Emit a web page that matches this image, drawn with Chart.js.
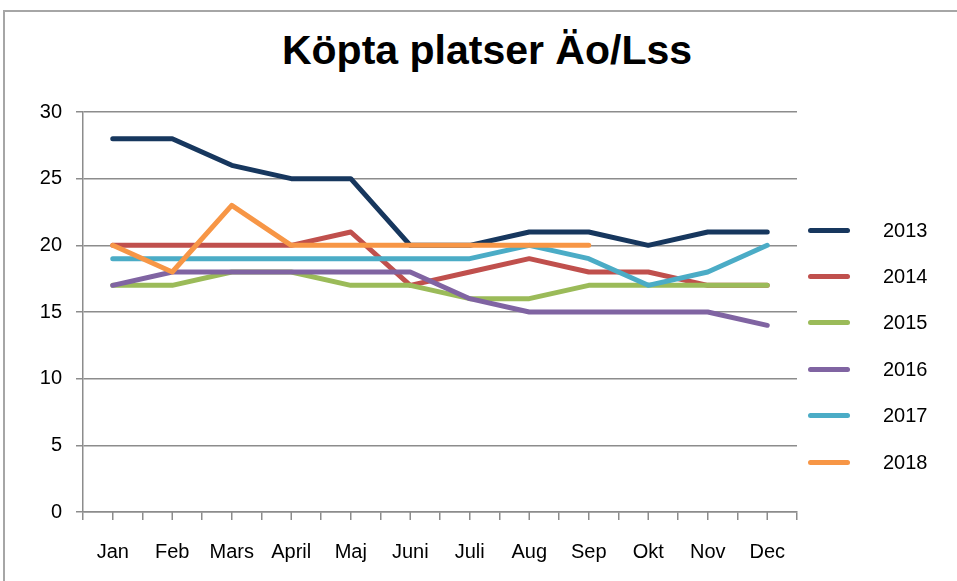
<!DOCTYPE html>
<html>
<head>
<meta charset="utf-8">
<script src="https://cdn.jsdelivr.net/npm/chart.js@4/dist/chart.umd.min.js"></script>
<style>
  html, body { margin: 0; padding: 0; background: #fff; overflow: hidden; }
  #wrap { position: relative; width: 957px; height: 581px; font-family: "Liberation Sans", Arial, sans-serif; }
  #frame { position: absolute; left: 3px; top: 10px; width: 1000px; height: 1000px; border: 2px solid #a6a6a6; box-sizing: border-box; }
  #title { position: absolute; left: 0; width: 974px; top: 27px; text-align: center; font-size: 41px; font-weight: bold; color: #000; }
  #chartBox { position: absolute; left: 0; top: 0; width: 957px; height: 581px; }
  #legend { position: absolute; left: 808px; top: 207px; }
  .item { height: 46.4px; display: flex; align-items: center; font-size: 20px; }
  .swatch { width: 42px; height: 5px; border-radius: 3px; margin-right: 33px; }
</style>
</head>
<body>
<div id="wrap">
  <div id="frame"></div>
  <div id="title">Köpta platser Äo/Lss</div>
  <div id="chartBox"><canvas id="chart" width="957" height="581"></canvas></div>
  <div id="legend"></div>
</div>
<script>
const months = ["Jan", "Feb", "Mars", "April", "Maj", "Juni", "Juli", "Aug", "Sep", "Okt", "Nov", "Dec"];
const years = ["2013", "2014", "2015", "2016", "2017", "2018"];

const v2013 = [28, 28, 26, 25, 25, 20, 20, 21, 21, 20, 21, 21];
const v2014 = [20, 20, 20, 20, 21, 17, 18, 19, 18, 18, 17, 17];
const v2015 = [17, 17, 18, 18, 17, 17, 16, 16, 17, 17, 17, 17];
const v2016 = [17, 18, 18, 18, 18, 18, 16, 15, 15, 15, 15, 14];
const v2017 = [19, 19, 19, 19, 19, 19, 19, 20, 19, 17, 18, 20];
const v2018 = [20, 18, 23, 20, 20, 20, 20, 20, 20];

const yTicks = [0, 5, 10, 15, 20, 25, 30];

const colors = ["#17375E", "#C0504D", "#9BBB59", "#8064A2", "#4BACC6", "#F79646"];
const series = [v2013, v2014, v2015, v2016, v2017, v2018];

const gridColor = "#8c8c8c";

// extra tick marks at category centres (Excel draws them at both)
const centreTicks = {
  id: "centreTicks",
  afterDraw(chart) {
    const x = chart.scales.x;
    const ctx = chart.ctx;
    ctx.save();
    ctx.strokeStyle = gridColor;
    ctx.lineWidth = 1.5;
    ctx.beginPath();
    months.forEach((m, i) => {
      const px = x.getPixelForValue(i);
      ctx.moveTo(px, x.top);
      ctx.lineTo(px, x.top + 8);
    });
    ctx.stroke();
    ctx.restore();
  }
};

const chart = new Chart(document.getElementById("chart"), {
  type: "line",
  data: {
    labels: months,
    datasets: years.map((y, i) => ({
      label: y,
      data: series[i],
      borderColor: colors[i],
      backgroundColor: colors[i],
      borderWidth: 5,
      pointRadius: 0,
      borderCapStyle: "round",
      borderJoinStyle: "round",
      tension: 0,
      // later years drawn on top, like the original
      order: years.length - 1 - i
    }))
  },
  options: {
    responsive: false,
    animation: false,
    layout: { padding: { left: 0, right: 160, top: 112, bottom: 0 } },
    plugins: {
      legend: { display: false },
      tooltip: { enabled: false }
    },
    scales: {
      x: {
        offset: true,
        grid: {
          offset: true,
          drawOnChartArea: false,
          color: gridColor,
          lineWidth: 1.5,
          tickLength: 8
        },
        border: { color: gridColor, width: 1.5 },
        ticks: {
          color: "#000",
          font: { family: "Liberation Sans", size: 20 },
          padding: 20,
          maxRotation: 0,
          autoSkip: false
        },
        afterFit(scale) { scale.height = 69; }
      },
      y: {
        min: 0,
        max: 30,
        afterBuildTicks(scale) { scale.ticks = yTicks.map(v => ({ value: v })); },
        grid: {
          color: gridColor,
          lineWidth: 1.5,
          tickLength: 7
        },
        border: { color: gridColor, width: 1.5 },
        ticks: {
          color: "#000",
          font: { family: "Liberation Sans", size: 20 },
          padding: 14
        },
        afterFit(scale) { scale.width = 83; }
      }
    }
  },
  plugins: [centreTicks]
});

// legend built from the chart's datasets, in year order
const legend = document.getElementById("legend");
chart.data.datasets.forEach(ds => {
  const row = document.createElement("div");
  row.className = "item";
  row.innerHTML = `<div class="swatch" style="background:${ds.borderColor}"></div><span>${ds.label}</span>`;
  legend.appendChild(row);
});
</script>
</body>
</html>
